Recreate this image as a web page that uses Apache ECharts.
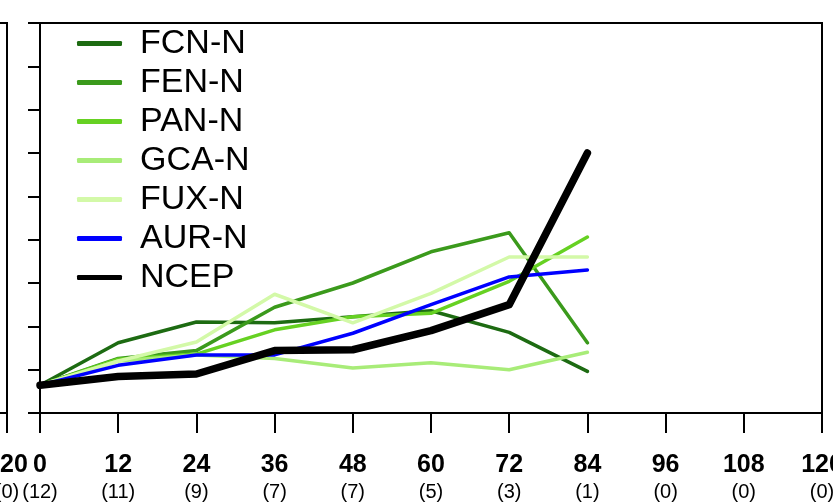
<!DOCTYPE html>
<html>
<head>
<meta charset="utf-8">
<script src="https://cdn.jsdelivr.net/npm/echarts@6/dist/echarts.min.js"></script>
<style>
  html, body { margin: 0; padding: 0; background: #fff; }
  #main { width: 833px; height: 504px; }
</style>
</head>
<body>
<div id="main"></div>
<script>
// forecast lead times (h) and number of cases
var leadTimes = [0, 12, 24, 36, 48, 60, 72, 84, 96, 108, 120];
var caseCounts = [12, 11, 9, 7, 7, 5, 3, 1, 0, 0, 0];

// series values, one per lead time 0..84
var seriesNames = ['FCN-N', 'FEN-N', 'PAN-N', 'GCA-N', 'FUX-N', 'AUR-N', 'NCEP'];
var fcn  = [32, 81, 105, 104, 111, 118, 93, 48];
var fen  = [32, 63, 72, 122, 150, 186, 208, 81];
var pan  = [32, 62, 68, 96, 111, 115, 152, 203];
var gca  = [32, 60, 67, 63, 52, 58, 50, 70];
var fux  = [32, 60, 82, 137, 104, 138, 180, 180];
var aur  = [32, 55, 67, 67, 92, 125, 157, 165];
var ncep = [32, 42, 45, 72, 73, 95, 125, 300];

var colors = ['#1d6b12', '#3b9a1c', '#66d122', '#a8ec78', '#d3f9a8', '#0000ff', '#000000'];
var widths = [3.5, 3.5, 3.5, 3.5, 3.5, 3.5, 7.5];
var values = [fcn, fen, pan, gca, fux, aur, ncep];

var countMap = {};
leadTimes.forEach(function (t, i) { countMap[t] = caseCounts[i]; });

function pairs(arr) {
    return arr.map(function (v, i) { return [leadTimes[i], v]; });
}

var xLabel = {
    margin: 38,
    formatter: function (v) { return '{a|' + v + '}\n{b|(' + countMap[v] + ')}'; },
    rich: {
        a: { fontFamily: 'Liberation Sans', fontWeight: 'bold', fontSize: 25, color: '#000', lineHeight: 28 },
        b: { fontFamily: 'Liberation Sans', fontSize: 20, color: '#000', lineHeight: 26 }
    }
};

var chart = echarts.init(document.getElementById('main'));
var option = {
    animation: false,
    backgroundColor: '#fff',
    color: colors,
    grid: [
        { left: 40, right: 11, top: 23, bottom: 91, show: true, borderColor: '#000', borderWidth: 2, outerBoundsMode: 'none' },
        // neighbouring panel, cut off at the left edge
        { left: -775, width: 782, top: 23, bottom: 91, show: true, borderColor: '#000', borderWidth: 2, outerBoundsMode: 'none' }
    ],
    legend: {
        orient: 'vertical',
        left: 72,
        top: 19,
        itemGap: 0,
        itemWidth: 45,
        itemHeight: 5,
        icon: 'roundRect',
        data: seriesNames,
        formatter: '{t|{name}}',
        textStyle: {
            fontSize: 34,
            lineHeight: 39,
            rich: {
                t: { fontFamily: 'Liberation Sans', fontSize: 34, color: '#000', height: 39, lineHeight: 39, padding: [0, 0, 0, 13] }
            }
        }
    },
    xAxis: [0, 1].map(function (g) {
        return {
            type: 'value', gridIndex: g, min: 0, max: 120, interval: 12,
            splitLine: { show: false },
            axisLine: { lineStyle: { color: '#000', width: 2 } },
            axisTick: { inside: false, length: 20, lineStyle: { color: '#000', width: 2 } },
            axisLabel: xLabel
        };
    }),
    yAxis: [0, 1].map(function (g) {
        return {
            type: 'value', gridIndex: g, min: 0, max: 450, interval: 50,
            splitLine: { show: false },
            axisLine: { show: true, lineStyle: { color: '#000', width: 2 } },
            axisTick: { show: true, inside: false, length: 12, lineStyle: { color: '#000', width: 2 } },
            axisLabel: { show: false }
        };
    }),
    series: seriesNames.map(function (name, i) {
        return {
            name: name,
            type: 'line',
            xAxisIndex: 0,
            yAxisIndex: 0,
            showSymbol: false,
            symbol: 'none',
            data: pairs(values[i]),
            lineStyle: { color: colors[i], width: widths[i], cap: 'round', join: 'round' },
            itemStyle: { color: colors[i] },
            z: 2 + i
        };
    })
};
chart.setOption(option);
</script>
</body>
</html>
